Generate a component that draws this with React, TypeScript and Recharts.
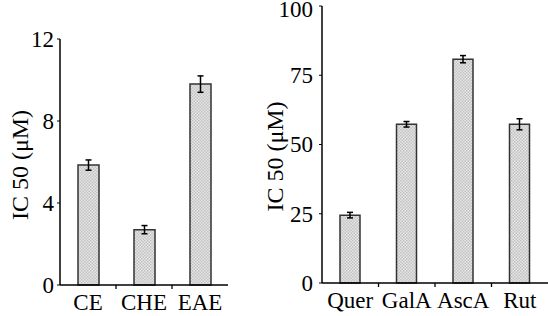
import React from 'react';
import { BarChart, Bar, XAxis, YAxis, ErrorBar } from 'recharts';

const leftCats = ['CE', 'CHE', 'EAE'];
const leftVals = [5.85, 2.7, 9.8];
const leftErr = [0.25, 0.2, 0.4];
const leftTicks = [0, 4, 8, 12];

const rightCats = ['Quer', 'GalA', 'AscA', 'Rut'];
const rightVals = [24.5, 57.3, 80.8, 57.3];
const rightErr = [1, 1, 1.3, 2];
const rightTicks = [0, 25, 50, 75, 100];

const yLabelText = 'IC 50 (μM)';

const leftData = leftCats.map((c, i) => ({ name: c, value: leftVals[i], err: leftErr[i] }));
const rightData = rightCats.map((c, i) => ({ name: c, value: rightVals[i], err: rightErr[i] }));

const FONT = '"Liberation Serif", "Times New Roman", serif';
const FS = 23;
const LFS = 24;

const XTick = (props: any) => {
  const { x, y, payload, index } = props;
  const off = payload && payload.offset != null ? payload.offset : 0;
  return (
    <g>
      {index > 0 && (
        <line x1={x - off} x2={x - off} y1={y - 9} y2={y - 5} stroke="#000" strokeWidth={1.3} />
      )}
      <text x={x} y={y} dy="0.68em" textAnchor="middle" style={{ fontFamily: FONT, fontSize: FS }} fill="#000">
        {payload.value}
      </text>
    </g>
  );
};

const YTick = (props: any) => {
  const { x, y, payload } = props;
  return (
    <text x={x} y={y} dy="0.34em" textAnchor="end" style={{ fontFamily: FONT, fontSize: FS }} fill="#000">
      {payload.value}
    </text>
  );
};

const YLabel = (props: any) => {
  const { viewBox, cx, dy } = props;
  const vb = viewBox || { y: 0, height: 0 };
  const cy = vb.y + vb.height / 2 + (dy || 0);
  return (
    <text
      x={cx}
      y={cy}
      transform={`rotate(-90 ${cx} ${cy})`}
      textAnchor="middle"
      dominantBaseline="central"
      style={{ fontFamily: FONT, fontSize: LFS }}
      fill="#000"
    >
      {yLabelText}
    </text>
  );
};

const Pattern = ({ id }: { id: string }) => (
  <defs>
    <pattern id={id} width="3" height="3" patternUnits="userSpaceOnUse">
      <rect width="3" height="3" fill="#e6e6e6" />
      <rect width="1.5" height="1.5" fill="#c2c2c2" />
      <rect x="1.5" y="1.5" width="1.5" height="1.5" fill="#c2c2c2" />
    </pattern>
  </defs>
);

export default function App() {
  return (
    <div style={{ position: 'absolute', left: 0, top: 0, width: 548, height: 316, background: '#fff' }}>
      <div style={{ position: 'absolute', left: 0, top: 0 }}>
        <BarChart width={240} height={316} data={leftData} margin={{ top: 39, right: 12, bottom: 0, left: 0 }} barCategoryGap="0%">
          <Pattern id="patL" />
          <XAxis
            dataKey="name"
            height={31}
            axisLine={{ stroke: '#000', strokeWidth: 1.5 }}
            tickLine={false}
            tickSize={4}
            tickMargin={5}
            tick={<XTick />}
            interval={0}
          />
          <YAxis
            width={60}
            domain={[0, 12]}
            ticks={leftTicks}
            axisLine={{ stroke: '#000', strokeWidth: 1.5 }}
            tickLine={{ stroke: '#000', strokeWidth: 1 }}
            tickSize={3}
            tickMargin={3}
            tick={<YTick />}
            label={<YLabel cx={20} dy={3} />}
          />
          <Bar dataKey="value" fill="url(#patL)" stroke="#333" strokeWidth={1.5} barSize={21} isAnimationActive={false}>
            <ErrorBar dataKey="err" width={3} stroke="#000" strokeWidth={1.5} />
          </Bar>
        </BarChart>
      </div>
      <div style={{ position: 'absolute', left: 250, top: 0 }}>
        <BarChart width={298} height={316} data={rightData} margin={{ top: 6, right: 0, bottom: 0, left: 0 }} barCategoryGap="0%">
          <Pattern id="patR" />
          <XAxis
            dataKey="name"
            height={33}
            axisLine={{ stroke: '#000', strokeWidth: 1.5 }}
            tickLine={false}
            tickSize={4}
            tickMargin={5}
            tick={<XTick />}
            interval={0}
          />
          <YAxis
            width={72}
            domain={[0, 100]}
            ticks={rightTicks}
            axisLine={{ stroke: '#000', strokeWidth: 1.5 }}
            tickLine={{ stroke: '#000', strokeWidth: 1 }}
            tickSize={3}
            tickMargin={6}
            tick={<YTick />}
            label={<YLabel cx={25} dy={12} />}
          />
          <Bar dataKey="value" fill="url(#patR)" stroke="#333" strokeWidth={1.5} barSize={20} isAnimationActive={false}>
            <ErrorBar dataKey="err" width={3} stroke="#000" strokeWidth={1.5} />
          </Bar>
        </BarChart>
      </div>
    </div>
  );
}
